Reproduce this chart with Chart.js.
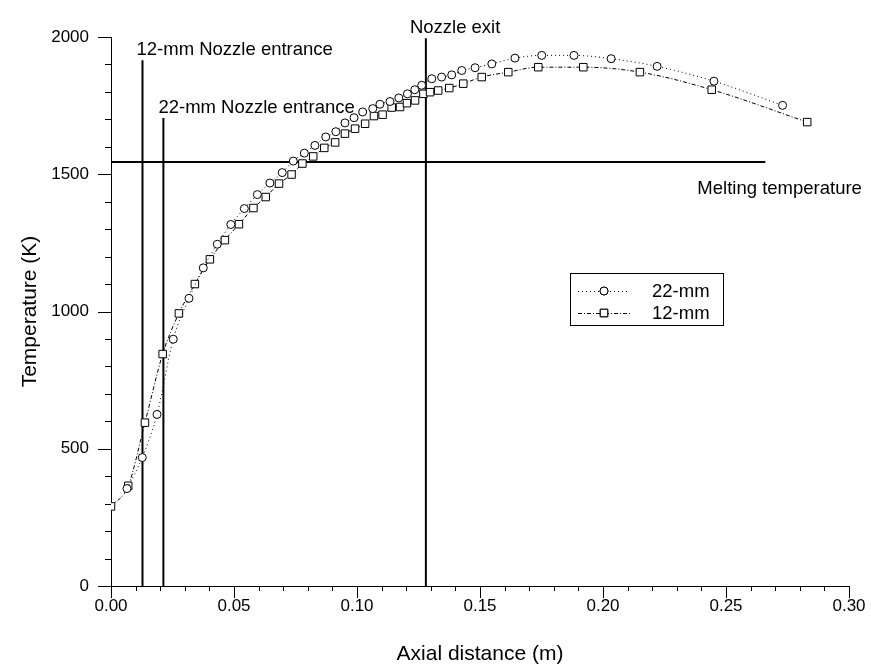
<!DOCTYPE html>
<html>
<head>
<meta charset="utf-8">
<script src="https://cdn.jsdelivr.net/npm/chart.js@4/dist/chart.umd.min.js"></script>
<style>
  html, body { margin: 0; padding: 0; background: #fff; }
  #wrap { width: 871px; height: 670px; position: relative; }
</style>
</head>
<body>
<div id="wrap"><canvas id="chart"></canvas></div>
<script>
// 22-mm nozzle, circles
const dist22 = [0.0065, 0.0127, 0.0187, 0.0253, 0.0317, 0.0375, 0.0432, 0.0487, 0.0542, 0.0595,
                0.0646, 0.0696, 0.0741, 0.0786, 0.0829, 0.0873, 0.0914, 0.0951, 0.0988, 0.1023,
                0.1064, 0.1093, 0.1134, 0.1170, 0.1205, 0.1235, 0.1263, 0.1304, 0.1344, 0.1385,
                0.1426, 0.1480, 0.1548, 0.1642, 0.1751, 0.1882, 0.2033, 0.2220, 0.2451, 0.2730]
const temp22 = [355, 468, 625, 899, 1048, 1159, 1245, 1317, 1375, 1426,
                1468, 1506, 1548, 1577, 1605, 1636, 1655, 1687, 1706, 1727,
                1739, 1755, 1765, 1778, 1793, 1808, 1824, 1848, 1854, 1862,
                1878, 1888, 1902, 1923, 1933, 1933, 1921, 1893, 1839, 1751]

// 12-mm nozzle, squares
const dist12 = [0.0, 0.0070, 0.0138, 0.0210, 0.0276, 0.0341, 0.0402, 0.0463, 0.0520, 0.0579,
                0.0629, 0.0683, 0.0734, 0.0778, 0.0822, 0.0867, 0.0911, 0.0951, 0.0992, 0.1033,
                0.1069, 0.1104, 0.1141, 0.1175, 0.1203, 0.1236, 0.1270, 0.1297, 0.1330, 0.1375,
                0.1432, 0.1507, 0.1615, 0.1737, 0.1920, 0.2150, 0.2442, 0.2830]
const temp12 = [290, 365, 595, 845, 993, 1100, 1190, 1260, 1318, 1377,
                1417, 1466, 1499, 1539, 1565, 1596, 1616, 1648, 1666, 1684,
                1712, 1717, 1743, 1745, 1759, 1769, 1793, 1799, 1805, 1814,
                1830, 1854, 1872, 1890, 1890, 1872, 1808, 1690]

// vertical marker lines: 12-mm entrance, 22-mm entrance, nozzle exit
const markerLineX = [0.0128, 0.0213, 0.128]
const markerLineTop = [1915, 1705, 1995]
const markerLabels = ['12-mm Nozzle entrance', '22-mm Nozzle entrance', 'Nozzle exit']

const meltingT = 1545
const meltingEnd = 0.266
const meltingLabel = 'Melting temperature'

const seriesNames = ['22-mm', '12-mm']

const xTicks = [0, 0.05, 0.10, 0.15, 0.20, 0.25, 0.30]
const yTicks = [0, 500, 1000, 1500, 2000]

const FONT = '"Liberation Sans", Arial, Helvetica, sans-serif'

function toPoints(xs, ys) {
    return xs.map((v, i) => ({x: v, y: ys[i]}))
}

let datasets = [{
    label: seriesNames[0],
    data: toPoints(dist22, temp22),
    borderColor: '#000',
    borderWidth: 1,
    borderDash: [1, 3],
    pointStyle: 'circle',
    pointRadius: 4,
    pointBorderWidth: 1,
    pointBorderColor: '#000',
    pointBackgroundColor: '#fff',
    cubicInterpolationMode: 'monotone'
}, {
    label: seriesNames[1],
    data: toPoints(dist12, temp12),
    borderColor: '#000',
    borderWidth: 1,
    borderDash: [4, 2, 1, 2],
    pointStyle: 'rect',
    pointRadius: 5.3,
    pointBorderWidth: 1,
    pointBorderColor: '#000',
    pointBackgroundColor: '#fff',
    cubicInterpolationMode: 'monotone'
}]

for (let i = 0; i < markerLineX.length; i++) {
    datasets.push({
        label: markerLabels[i],
        data: [{x: markerLineX[i], y: 0}, {x: markerLineX[i], y: markerLineTop[i]}],
        borderColor: '#000',
        borderWidth: 2,
        pointRadius: 0
    })
}
datasets.push({
    label: meltingLabel,
    data: [{x: 0, y: meltingT}, {x: meltingEnd, y: meltingT}],
    borderColor: '#000',
    borderWidth: 2,
    pointRadius: 0
})

// major + minor tick marks drawn by hand (chart.js has no minor ticks)
const tickPlugin = {
    id: 'tickMarks',
    afterDraw(chart) {
        const {ctx, scales: {x, y}} = chart
        const bottom = Math.round(y.getPixelForValue(0))
        const left = Math.round(x.getPixelForValue(0))
        ctx.save()
        ctx.strokeStyle = '#000'
        ctx.lineWidth = 1
        ctx.beginPath()
        for (let i = 0; i <= 30; i++) {
            let px = Math.round(x.getPixelForValue(i / 100)) + 0.5
            let len = i % 5 == 0 ? 12 : 5
            ctx.moveTo(px, bottom)
            ctx.lineTo(px, bottom + len)
        }
        for (let v = 0; v <= 2000; v += 100) {
            let py = Math.round(y.getPixelForValue(v)) + 0.5
            let len = v % 500 == 0 ? 13 : 6
            ctx.moveTo(left, py)
            ctx.lineTo(left - len, py)
        }
        ctx.stroke()
        ctx.restore()
    }
}

const textPlugin = {
    id: 'annotations',
    afterDatasetsDraw(chart) {
        const {ctx, scales: {x, y}} = chart
        const shift = [-6, -5, -16]
        ctx.save()
        ctx.fillStyle = '#000'
        ctx.font = '18.5px ' + FONT
        ctx.textAlign = 'left'
        ctx.textBaseline = 'alphabetic'
        for (let i = 0; i < markerLabels.length; i++) {
            ctx.fillText(markerLabels[i], x.getPixelForValue(markerLineX[i]) + shift[i], y.getPixelForValue(markerLineTop[i]) - 5)
        }
        ctx.fillText(meltingLabel, x.getPixelForValue(meltingEnd) - 68, y.getPixelForValue(meltingT) + 32)

        // legend box
        const bx = 570, by = 273, bw = 153, bh = 52
        ctx.lineWidth = 1
        ctx.strokeStyle = '#000'
        ctx.strokeRect(bx + 0.5, by + 0.5, bw, bh)
        for (let i = 0; i < 2; i++) {
            const ds = chart.data.datasets[i]
            const ly = by + 18 + i * 22
            ctx.beginPath()
            ctx.setLineDash(ds.borderDash)
            ctx.moveTo(bx + 8, ly + 0.5)
            ctx.lineTo(bx + 60, ly + 0.5)
            ctx.stroke()
            ctx.setLineDash([])
            Chart.helpers.drawPoint(ctx, {
                pointStyle: ds.pointStyle, radius: ds.pointRadius, borderWidth: 1, rotation: 0
            }, bx + 34, ly)
            ctx.fillStyle = '#fff'
            ctx.fill()
            ctx.stroke()
            ctx.fillStyle = '#000'
            ctx.textBaseline = 'middle'
            ctx.fillText(ds.label, bx + 82, ly + 1)
        }
        ctx.restore()
    }
}

new Chart(document.getElementById('chart'), {
    type: 'line',
    data: {datasets: datasets},
    options: {
        responsive: true,
        maintainAspectRatio: false,
        animation: false,
        layout: {padding: {top: 37, right: 22, left: 0, bottom: 0}},
        plugins: {legend: {display: false}, tooltip: {enabled: false}},
        scales: {
            x: {
                type: 'linear',
                min: 0, max: 0.3,
                afterFit: (s) => { s.height = 84; s.paddingRight = 10; s.paddingLeft = 0 },
                afterBuildTicks: (s) => { s.ticks = xTicks.map(v => ({value: v})) },
                grid: {display: false, drawTicks: false},
                border: {display: true, color: '#000', width: 1},
                ticks: {
                    padding: 10,
                    color: '#000',
                    font: {family: FONT, size: 17},
                    maxRotation: 0,
                    callback: (v) => Number(v).toFixed(2)
                },
                title: {
                    display: true, text: 'Axial distance (m)', color: '#000',
                    font: {family: FONT, size: 21}, padding: {top: 3, bottom: 3}
                }
            },
            y: {
                type: 'linear',
                min: 0, max: 2000,
                afterFit: (s) => { s.width = 111 },
                afterBuildTicks: (s) => { s.ticks = yTicks.map(v => ({value: v})) },
                grid: {display: false, drawTicks: false},
                border: {display: true, color: '#000', width: 1},
                ticks: {
                    padding: 22,
                    color: '#000',
                    font: {family: FONT, size: 17},
                    callback: (v) => String(v)
                },
                title: {
                    display: true, text: 'Temperature (K)', color: '#000',
                    font: {family: FONT, size: 21}, padding: {top: 18, bottom: 0}
                }
            }
        }
    },
    plugins: [tickPlugin, textPlugin]
})
</script>
</body>
</html>
